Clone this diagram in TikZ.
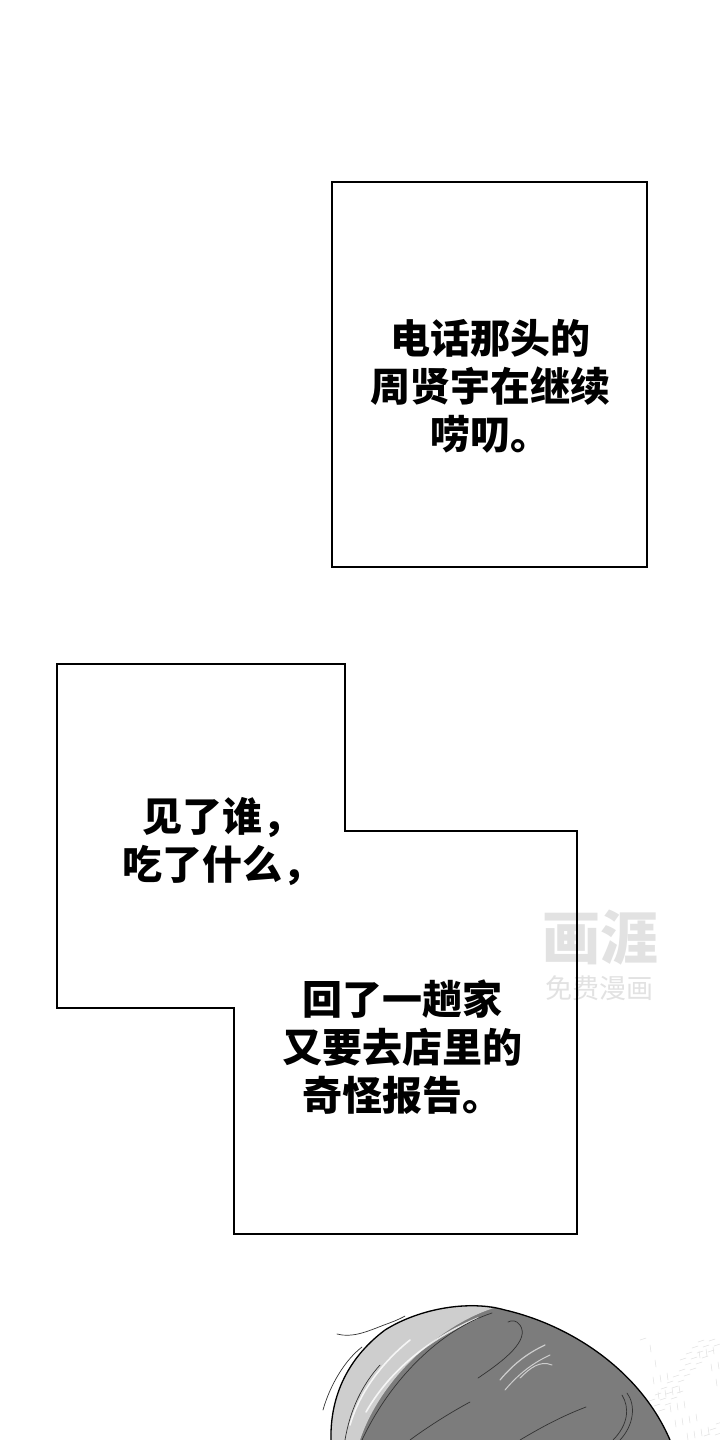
\documentclass[tikz,border=0pt]{standalone}
\usepackage{fontspec}
\newfontfamily\cjk{Noto Sans CJK SC}
\definecolor{hairdark}{RGB}{124,124,124}
\definecolor{hairlight}{RGB}{206,206,206}
\definecolor{wmshade}{RGB}{226,226,226}
\begin{document}
\begin{tikzpicture}[x=1pt,y=-1pt,
  panel/.style={draw=black,line width=1.5pt,line join=miter},
  say/.style={font=\cjk\bfseries\fontsize{40}{48}\selectfont,align=center,inner sep=0pt},
  strand/.style={draw=black!80,line width=0.7pt,line cap=round},
  glint/.style={draw=white,line width=1.6pt,line cap=round,opacity=0.8},
  grain/.style={draw=black!12,line width=0.5pt,line cap=round},
  wmlogo/.style={font=\cjk\bfseries\fontsize{58}{58}\selectfont,inner sep=0pt,text=wmshade},
  wmsub/.style={font=\cjk\fontsize{27}{27}\selectfont,inner sep=0pt,text=wmshade}
]
\useasboundingbox[fill=white] (0,0) rectangle (720,1440);

% watermark
\node[wmlogo] (wm) at (600,938) {画涯};
\node[wmsub] (wms) at (599,988) {免费漫画};

% panels
\draw[panel] (332,182) rectangle (647,567);
\draw[panel] (57,664) -- (345,664) -- (345,831) -- (577,831) -- (577,1234)
  -- (234,1234) -- (234,1008) -- (57,1008) -- cycle;

% texts
\node[say] (t1) at (490,386) {电话那头的\\周贤宇在继续\\唠叨。};
\node[say] (t2) at (222,842) {见了谁，\\吃了什么，};
\node[say] (t3) at (402,1047) {回了一趟家\\又要去店里的\\奇怪报告。};

% background grain right of head
\foreach \i in {0,...,40}{
  \pgfmathsetmacro{\gx}{640+mod(\i*37,80)}
  \pgfmathsetmacro{\gy}{1340+mod(\i*53,100)}
  \draw[grain] (\gx,\gy) -- ++(6,-2);
}
\foreach \i in {0,...,25}{
  \pgfmathsetmacro{\gx}{650+mod(\i*29,70)}
  \pgfmathsetmacro{\gy}{1345+mod(\i*41,95)}
  \draw[grain] (\gx,\gy) -- ++(1,7);
}

% hair
\fill[hairdark] (331,1440) .. controls (330,1400) and (345,1360) .. (385,1330)
  .. controls (420,1308) and (470,1300) .. (505,1310)
  .. controls (570,1325) and (640,1370) .. (670,1440) -- cycle;
\fill[hairlight] (331,1440) .. controls (330,1400) and (345,1360) .. (385,1330)
  .. controls (420,1308) and (462,1301) .. (497,1307)
  .. controls (445,1322) and (382,1375) .. (360,1440) -- cycle;
\draw[glint] (366,1412) .. controls (390,1370) and (430,1338) .. (478,1318);
\draw[glint] (350,1425) .. controls (360,1390) and (385,1360) .. (410,1340);
\draw[glint,draw=hairlight!60!white,line width=1.2pt] (500,1380) .. controls (515,1362) and (530,1352) .. (545,1345);
\draw[glint,draw=hairlight!60!white,line width=1pt] (505,1390) .. controls (520,1372) and (535,1362) .. (550,1355);
\draw[glint,draw=hairlight!60!white,line width=1pt] (520,1378) .. controls (530,1368) and (540,1360) .. (552,1365);

% strands
\draw[strand] (362,1440) .. controls (390,1380) and (440,1330) .. (492,1313);
\draw[strand] (478,1378) .. controls (505,1360) and (530,1340) .. (520,1325)
  .. controls (516,1320) and (512,1320) .. (508,1322);
\draw[strand] (520,1440) .. controls (545,1425) and (565,1415) .. (586,1407);
\draw[strand] (627,1393) .. controls (636,1405) and (634,1425) .. (620,1440);
\draw[strand] (622,1395) .. controls (630,1408) and (628,1425) .. (613,1440);
\draw[strand] (337,1334) .. controls (352,1338) and (366,1332) .. (384,1325)
  .. controls (392,1322) and (398,1320) .. (405,1316);
\draw[strand] (323,1410) .. controls (330,1385) and (345,1360) .. (362,1347);
\draw[strand] (345,1440) .. controls (350,1410) and (362,1385) .. (380,1365);
\draw[strand] (410,1440) .. controls (430,1425) and (455,1410) .. (470,1402);

% outline
\draw[line width=1.3pt,line cap=round] (331,1440) .. controls (330,1400) and (345,1360) .. (385,1330)
  .. controls (420,1308) and (470,1300) .. (505,1310)
  .. controls (570,1325) and (640,1370) .. (670,1440);
\end{tikzpicture}
\end{document}
